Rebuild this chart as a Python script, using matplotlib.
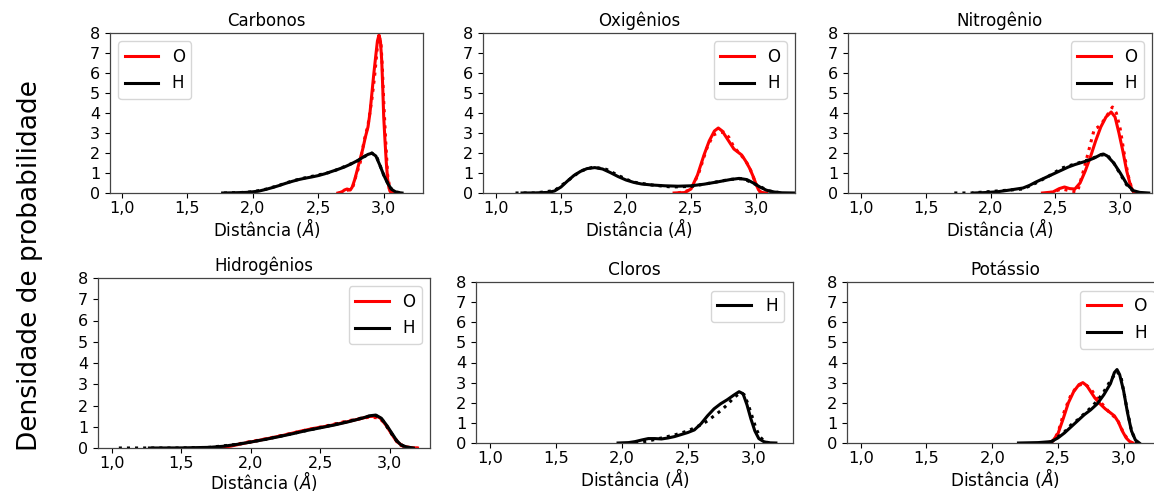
import matplotlib
matplotlib.use("Agg")
import matplotlib.pyplot as plt

plt.rcParams['font.family'] = ['DejaVu Sans']

# ---------------- data ----------------
titles = ["Carbonos", "Oxigênios", "Nitrogênio", "Hidrogênios", "Cloros", "Potássio"]
xticks = [1.0, 1.5, 2.0, 2.5, 3.0]
xticklabels = ["1,0", "1,5", "2,0", "2,5", "3,0"]
yticks = [0, 1, 2, 3, 4, 5, 6, 7, 8]
xlabel = "Distância ($\\AA$)"
ylabel = "Densidade de probabilidade"

# Carbonos
c_O_x = [2.65, 2.68, 2.70, 2.72, 2.745, 2.76, 2.78, 2.80, 2.82, 2.84, 2.86, 2.88, 2.895, 2.91, 2.925, 2.94, 2.952, 2.964, 2.975, 2.985, 2.993, 3.0, 3.01, 3.02, 3.03, 3.04, 3.05, 3.07]
c_O_y = [0.0, 0.05, 0.15, 0.2, 0.15, 0.3, 0.7, 1.2, 1.7, 2.2, 2.8, 3.3, 4.0, 5.0, 6.0, 6.9, 7.6, 7.9, 7.6, 6.6, 5.2, 3.8, 2.6, 1.5, 0.7, 0.25, 0.07, 0.0]
c_Od_x = [2.66, 2.70, 2.73, 2.76, 2.79, 2.82, 2.85, 2.88, 2.91, 2.93, 2.95, 2.965, 2.98, 2.99, 3.0, 3.015, 3.03, 3.05, 3.07]
c_Od_y = [0.0, 0.1, 0.15, 0.2, 0.9, 1.5, 2.6, 3.4, 4.7, 5.8, 7.2, 7.85, 7.4, 6.2, 4.6, 2.6, 0.9, 0.1, 0.0]
c_H_x = [1.77, 1.85, 1.95, 2.0, 2.05, 2.1, 2.15, 2.2, 2.25, 2.3, 2.35, 2.4, 2.45, 2.5, 2.55, 2.6, 2.65, 2.7, 2.75, 2.8, 2.85, 2.88, 2.91, 2.94, 2.97, 3.0, 3.03, 3.06, 3.09, 3.12, 3.14]
c_H_y = [0.0, 0.01, 0.03, 0.06, 0.1, 0.18, 0.27, 0.37, 0.48, 0.58, 0.67, 0.74, 0.8, 0.87, 0.96, 1.07, 1.18, 1.3, 1.45, 1.62, 1.82, 1.93, 1.99, 1.85, 1.4, 0.9, 0.48, 0.18, 0.06, 0.015, 0.0]
c_Hd_x = [1.78, 1.9, 2.0, 2.1, 2.2, 2.3, 2.4, 2.5, 2.6, 2.7, 2.8, 2.86, 2.91, 2.95, 3.0, 3.05, 3.1, 3.15]
c_Hd_y = [0.0, 0.02, 0.06, 0.19, 0.38, 0.6, 0.76, 0.9, 1.05, 1.32, 1.6, 1.85, 2.0, 1.75, 0.9, 0.25, 0.04, 0.0]

# Oxigênios
o_H_x = [1.2, 1.3, 1.4, 1.45, 1.5, 1.55, 1.6, 1.65, 1.7, 1.76, 1.82, 1.88, 1.94, 2.0, 2.06, 2.12, 2.2, 2.3, 2.4, 2.5, 2.6, 2.7, 2.8, 2.87, 2.93, 2.98, 3.03, 3.08, 3.14, 3.2, 3.3]
o_H_y = [0.0, 0.005, 0.03, 0.1, 0.3, 0.6, 0.88, 1.08, 1.22, 1.27, 1.2, 1.02, 0.82, 0.65, 0.53, 0.45, 0.4, 0.36, 0.34, 0.36, 0.44, 0.55, 0.67, 0.73, 0.67, 0.5, 0.3, 0.14, 0.05, 0.01, 0.0]
o_Hd_x = [1.15, 1.3, 1.45, 1.55, 1.65, 1.75, 1.85, 1.95, 2.05, 2.2, 2.35, 2.5, 2.65, 2.8, 2.9, 3.0, 3.1, 3.2]
o_Hd_y = [0.0, 0.0, 0.12, 0.6, 1.1, 1.3, 1.18, 0.85, 0.55, 0.4, 0.3, 0.33, 0.5, 0.68, 0.72, 0.42, 0.1, 0.0]
o_O_x = [2.37, 2.45, 2.5, 2.55, 2.6, 2.64, 2.68, 2.71, 2.74, 2.77, 2.8, 2.83, 2.86, 2.89, 2.92, 2.95, 2.98, 3.0, 3.02, 3.04, 3.08]
o_O_y = [0.0, 0.02, 0.2, 0.9, 1.9, 2.6, 3.1, 3.25, 3.1, 2.8, 2.5, 2.2, 2.05, 1.9, 1.6, 1.25, 0.8, 0.45, 0.15, 0.03, 0.0]
o_Od_x = [2.4, 2.5, 2.56, 2.62, 2.67, 2.71, 2.75, 2.79, 2.83, 2.87, 2.91, 2.95, 2.99, 3.03, 3.07]
o_Od_y = [0.0, 0.15, 1.0, 2.2, 2.9, 3.0, 3.05, 2.8, 2.3, 2.0, 1.7, 1.3, 0.6, 0.05, 0.0]

# Nitrogênio
n_H_x = [1.87, 1.95, 2.05, 2.15, 2.25, 2.3, 2.35, 2.4, 2.45, 2.5, 2.55, 2.6, 2.65, 2.7, 2.75, 2.8, 2.85, 2.87, 2.9, 2.95, 3.0, 3.05, 3.1, 3.15, 3.22]
n_H_y = [0.0, 0.02, 0.06, 0.15, 0.25, 0.38, 0.55, 0.7, 0.85, 1.0, 1.15, 1.3, 1.42, 1.52, 1.62, 1.75, 1.92, 1.95, 1.85, 1.5, 1.0, 0.45, 0.12, 0.03, 0.0]
n_Hd_x = [1.72, 1.85, 1.95, 2.05, 2.15, 2.25, 2.35, 2.45, 2.55, 2.65, 2.75, 2.85, 2.9, 2.95, 3.0, 3.05, 3.1, 3.15]
n_Hd_y = [0.0, 0.0, 0.05, 0.1, 0.15, 0.2, 0.5, 0.85, 1.25, 1.45, 1.65, 1.9, 1.9, 1.5, 0.95, 0.4, 0.1, 0.0]
n_O_x = [2.40, 2.48, 2.53, 2.57, 2.61, 2.65, 2.69, 2.73, 2.77, 2.81, 2.85, 2.89, 2.93, 2.96, 2.99, 3.02, 3.05, 3.08, 3.1, 3.12]
n_O_y = [0.0, 0.05, 0.22, 0.3, 0.22, 0.2, 0.5, 1.1, 1.8, 2.6, 3.3, 3.8, 4.05, 3.8, 3.0, 2.1, 1.1, 0.35, 0.08, 0.0]
n_Od_x = [2.45, 2.55, 2.62, 2.67, 2.72, 2.76, 2.80, 2.83, 2.87, 2.9, 2.94, 2.97, 3.0, 3.03, 3.06, 3.09, 3.11]
n_Od_y = [0.0, 0.2, 0.1, 0.05, 1.2, 2.2, 3.2, 3.3, 3.6, 3.9, 4.3, 4.0, 3.2, 2.0, 0.9, 0.2, 0.0]

# Hidrogênios
h_H_x = [1.27, 1.5, 1.7, 1.8, 1.9, 2.0, 2.1, 2.2, 2.3, 2.4, 2.5, 2.6, 2.7, 2.8, 2.86, 2.9, 2.94, 2.98, 3.02, 3.05, 3.08, 3.12, 3.17]
h_H_y = [0.0, 0.005, 0.03, 0.08, 0.17, 0.28, 0.4, 0.53, 0.67, 0.82, 0.95, 1.08, 1.23, 1.4, 1.52, 1.55, 1.4, 1.05, 0.65, 0.35, 0.15, 0.05, 0.0]
h_Hd_x = [1.05, 1.27, 1.5, 1.7, 1.9, 2.1, 2.3, 2.5, 2.7, 2.85, 2.9, 2.95, 3.0, 3.05, 3.1, 3.15]
h_Hd_y = [0.0, 0.0, 0.0, 0.03, 0.17, 0.4, 0.68, 0.96, 1.25, 1.5, 1.53, 1.3, 0.8, 0.33, 0.08, 0.0]
h_O_x = [1.75, 1.85, 1.95, 2.05, 2.15, 2.25, 2.35, 2.45, 2.55, 2.65, 2.75, 2.85, 2.9, 2.93, 2.97, 3.01, 3.05, 3.1, 3.15, 3.2]
h_O_y = [0.0, 0.08, 0.22, 0.35, 0.48, 0.62, 0.78, 0.92, 1.03, 1.17, 1.32, 1.48, 1.5, 1.42, 1.1, 0.7, 0.3, 0.08, 0.02, 0.0]
h_Od_x = [1.8, 1.95, 2.1, 2.25, 2.4, 2.55, 2.7, 2.85, 2.92, 2.97, 3.02, 3.08, 3.14, 3.2]
h_Od_y = [0.02, 0.25, 0.42, 0.63, 0.85, 1.05, 1.28, 1.45, 1.42, 1.15, 0.6, 0.12, 0.02, 0.0]

# Cloros
cl_H_x = [1.97, 2.05, 2.1, 2.15, 2.2, 2.25, 2.3, 2.35, 2.4, 2.45, 2.5, 2.55, 2.6, 2.65, 2.7, 2.75, 2.8, 2.85, 2.89, 2.92, 2.95, 2.98, 3.01, 3.04, 3.08, 3.12, 3.17]
cl_H_y = [0.0, 0.02, 0.07, 0.15, 0.22, 0.22, 0.2, 0.25, 0.32, 0.42, 0.52, 0.65, 0.95, 1.35, 1.7, 1.95, 2.15, 2.38, 2.55, 2.45, 1.9, 1.2, 0.6, 0.22, 0.06, 0.01, 0.0]
cl_Hd_x = [2.1, 2.2, 2.3, 2.4, 2.5, 2.6, 2.65, 2.7, 2.75, 2.8, 2.85, 2.9, 2.93, 2.96, 2.99, 3.02, 3.05, 3.08, 3.12]
cl_Hd_y = [0.0, 0.1, 0.25, 0.4, 0.6, 0.9, 1.1, 1.35, 1.6, 1.9, 2.25, 2.5, 2.4, 1.9, 1.3, 0.7, 0.3, 0.1, 0.0]

# Potássio
k_O_x = [2.42, 2.46, 2.5, 2.54, 2.58, 2.62, 2.66, 2.69, 2.72, 2.75, 2.78, 2.82, 2.86, 2.9, 2.93, 2.96, 2.99, 3.02, 3.05, 3.07]
k_O_y = [0.0, 0.1, 0.45, 1.2, 2.0, 2.55, 2.9, 3.0, 2.85, 2.55, 2.25, 1.95, 1.7, 1.5, 1.35, 1.05, 0.6, 0.25, 0.05, 0.0]
k_Od_x = [2.45, 2.5, 2.55, 2.6, 2.65, 2.7, 2.75, 2.8, 2.85, 2.9, 2.95, 3.0, 3.04, 3.07]
k_Od_y = [0.0, 0.5, 1.6, 2.4, 2.85, 2.95, 2.7, 2.2, 1.85, 1.45, 1.2, 0.5, 0.1, 0.0]
k_H_x = [2.2, 2.35, 2.45, 2.5, 2.55, 2.6, 2.65, 2.7, 2.75, 2.8, 2.85, 2.9, 2.93, 2.95, 2.97, 3.0, 3.03, 3.06, 3.09, 3.12]
k_H_y = [0.0, 0.02, 0.07, 0.25, 0.5, 0.8, 1.1, 1.4, 1.65, 1.95, 2.4, 2.95, 3.5, 3.65, 3.4, 2.6, 1.5, 0.6, 0.15, 0.0]
k_Hd_x = [2.45, 2.5, 2.55, 2.6, 2.65, 2.7, 2.75, 2.8, 2.85, 2.9, 2.95, 2.98, 3.02, 3.06, 3.1]
k_Hd_y = [0.05, 0.3, 0.55, 0.9, 1.15, 1.45, 1.75, 2.1, 2.55, 3.1, 3.55, 3.3, 1.9, 0.6, 0.0]

RED = "#ff0000"
BLACK = "#000000"

W, H = 1154, 492
# (title, series, legend loc, axes rect px [left, top, right, bottom], xlim, font scale, xlabel pad)
panels = [
    ("Carbonos", [(c_O_x, c_O_y, c_Od_x, c_Od_y, RED, "O"), (c_H_x, c_H_y, c_Hd_x, c_Hd_y, BLACK, "H")],
     "upper left", (110, 33, 423, 193), (0.91, 3.30), 1.0, -0.5),
    ("Oxigênios", [(o_O_x, o_O_y, o_Od_x, o_Od_y, RED, "O"), (o_H_x, o_H_y, o_Hd_x, o_Hd_y, BLACK, "H")],
     "upper right", (483, 33, 795, 193), (0.90, 3.30), 1.0, -0.5),
    ("Nitrogênio", [(n_O_x, n_O_y, n_Od_x, n_Od_y, RED, "O"), (n_H_x, n_H_y, n_Hd_x, n_Hd_y, BLACK, "H")],
     "upper right", (848, 33, 1152, 193), (0.90, 3.245), 1.0, -0.5),
    ("Hidrogênios", [(h_O_x, h_O_y, h_Od_x, h_Od_y, RED, "O"), (h_H_x, h_H_y, h_Hd_x, h_Hd_y, BLACK, "H")],
     "upper right", (98, 278, 430, 448), (0.90, 3.29), 1.0, -1.5),
    ("Cloros", [(cl_H_x, cl_H_y, cl_Hd_x, cl_Hd_y, BLACK, "H")],
     "upper right", (476, 282, 793, 443), (0.89, 3.30), 1.02, -0.5),
    ("Potássio", [(k_O_x, k_O_y, k_Od_x, k_Od_y, RED, "O"), (k_H_x, k_H_y, k_Hd_x, k_Hd_y, BLACK, "H")],
     "upper right", (847, 282, 1163, 443), (0.895, 3.30), 1.02, -0.5),
]

fig = plt.figure(figsize=(W / 100, H / 100), dpi=100)

for title, series, loc, (l, t, r, b), xl, fs, lp in panels:
    ax = fig.add_axes([l / W, 1 - b / H, (r - l) / W, (b - t) / H])
    for sx, sy, dx, dy, col, lab in series:
        ax.plot(sx, sy, color=col, lw=2.2, label=lab)
        ax.plot(dx, dy, color=col, lw=2.2, ls=":")
    ax.set_xlim(*xl)
    ax.set_ylim(0, 8)
    ax.set_xticks(xticks)
    ax.set_xticklabels(xticklabels)
    ax.set_yticks(yticks)
    ax.tick_params(labelsize=11.5 * fs)
    ax.tick_params(axis="x", pad=2.5)
    for s in ax.spines.values():
        s.set_color("#444444")
        s.set_linewidth(0.9)
    ax.set_title(title, fontsize=12 * fs, pad=5)
    ax.set_xlabel(xlabel, fontsize=12 * fs, labelpad=lp)
    ax.legend(loc=loc, fontsize=12 * fs, handlelength=2.0)

fig.text(30 / W, 1 - 266 / H, ylabel, rotation=90, fontsize=19, ha="center", va="center")

fig.savefig("out.png", dpi=100)
